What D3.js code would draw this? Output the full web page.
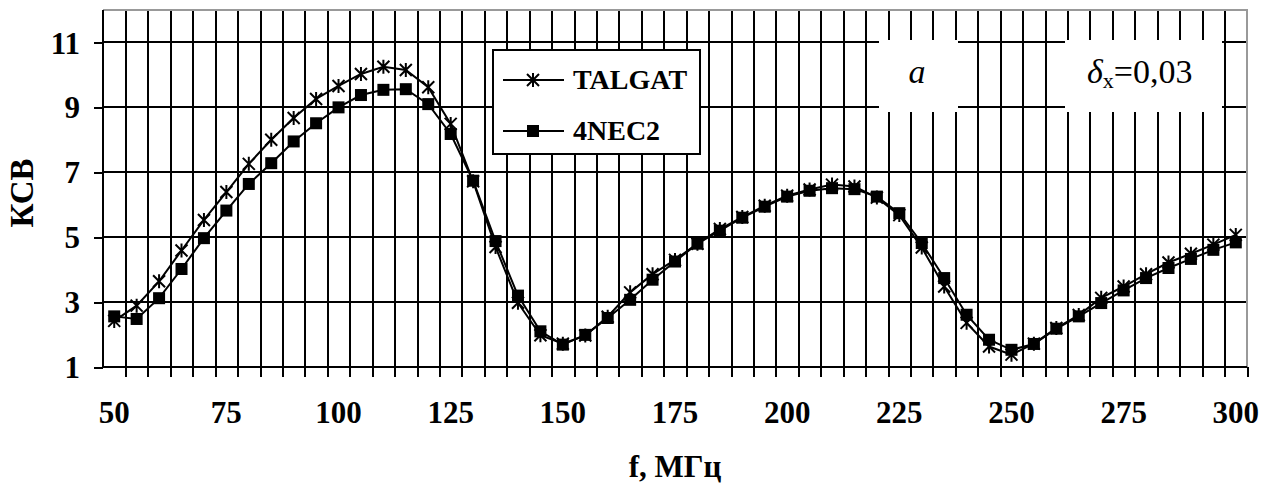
<!DOCTYPE html>
<html>
<head>
<meta charset="utf-8">
<script src="https://cdn.jsdelivr.net/npm/d3@7/dist/d3.min.js"></script>
<style>
  body { margin: 0; background: #fff; }
  svg { display: block; font-family: "Liberation Serif", "Times New Roman", serif; }
  .grid line, .grid path { shape-rendering: crispEdges; }
</style>
</head>
<body>
<svg width="1271" height="485"></svg>
<script>
// frequency, MHz (category axis, step 5)
var freq = d3.range(50, 301, 5);
var xLabels = [50, 75, 100, 125, 150, 175, 200, 225, 250, 275, 300];
var yTicks = [1, 3, 5, 7, 9, 11];

var talgat = [2.42, 2.89, 3.64, 4.59, 5.53, 6.39, 7.26, 8.0, 8.67, 9.26,
              9.66, 10.03, 10.25, 10.15, 9.62, 8.49, 6.72, 4.7, 2.98, 1.98,
              1.72, 1.97, 2.55, 3.3, 3.86, 4.3, 4.8, 5.25, 5.62, 5.97,
              6.28, 6.47, 6.62, 6.56, 6.22, 5.68, 4.68, 3.48, 2.36, 1.63,
              1.38, 1.72, 2.2, 2.6, 3.13, 3.48, 3.86, 4.22, 4.49, 4.77, 5.07];

var nec2 = [2.56, 2.48, 3.12, 4.02, 4.97, 5.82, 6.64, 7.28, 7.95, 8.51,
            9.0, 9.38, 9.54, 9.56, 9.1, 8.18, 6.74, 4.88, 3.2, 2.1,
            1.69, 1.99, 2.51, 3.07, 3.69, 4.25, 4.8, 5.2, 5.6, 5.94,
            6.25, 6.43, 6.51, 6.48, 6.25, 5.74, 4.82, 3.74, 2.61, 1.84,
            1.53, 1.71, 2.18, 2.56, 2.97, 3.36, 3.74, 4.05, 4.33, 4.61, 4.84];

var pLeft = 103, pRight = 1247, pTop = 10, pBottom = 367;

var svg = d3.select("svg");
svg.append("rect").attr("width", 1271).attr("height", 485).attr("fill", "#fff");

var x = d3.scaleBand()
    .domain(freq)
    .range([pLeft, pRight])
    .padding(0);
var xi = d3.scaleLinear()
    .domain([0, freq.length])
    .range([pLeft, pRight]);
var y = d3.scaleLinear()
    .domain([1, 12])
    .range([pBottom, pTop]);

// vertical grid + tick marks below the axis
svg.append("g")
    .attr("class", "grid")
    .attr("transform", "translate(0," + pBottom + ")")
    .call(d3.axisBottom(xi).tickValues(d3.range(1, freq.length + 1)).tickSize(10).tickFormat(""))
    .call(function(g) { g.select(".domain").remove(); })
    .selectAll("line")
      .attr("stroke", "#000")
      .attr("stroke-width", 2)
      .attr("y1", function(d) { return d === freq.length ? 0 : pTop - pBottom; });

// horizontal grid
svg.append("g")
    .attr("class", "grid")
    .selectAll("line")
    .data(yTicks)
    .enter()
    .append("line")
      .attr("x1", pLeft)
      .attr("x2", pRight)
      .attr("y1", function(d) { return y(d); })
      .attr("y2", function(d) { return y(d); })
      .attr("stroke", "#000")
      .attr("stroke-width", 2);

// plot border (top + right, gray)
svg.append("g").attr("class", "grid").append("path")
    .attr("d", "M" + pLeft + "," + pTop + "H" + pRight + "V" + pBottom)
    .attr("fill", "none")
    .attr("stroke", "#999")
    .attr("stroke-width", 2);

// y axis
svg.append("g")
    .attr("class", "grid")
    .attr("transform", "translate(" + pLeft + ",0)")
    .call(d3.axisLeft(y).tickValues(yTicks).tickSize(9).tickPadding(14))
    .call(function(g) {
        g.select(".domain").attr("stroke", "#000").attr("stroke-width", 2)
          .attr("d", "M0," + pTop + "V" + pBottom);
        g.selectAll("line").attr("stroke", "#000").attr("stroke-width", 2);
        g.selectAll("text")
          .attr("font-family", "Liberation Serif, Times New Roman, serif")
          .attr("font-size", 31)
          .attr("font-weight", "bold")
          .attr("fill", "#000")
          .attr("dy", "0.34em");
    });

// x axis line
svg.append("g").attr("class", "grid").append("line")
    .attr("x1", pLeft).attr("x2", pRight)
    .attr("y1", pBottom).attr("y2", pBottom)
    .attr("stroke", "#000").attr("stroke-width", 2);

// x labels
svg.append("g")
    .attr("transform", "translate(0," + pBottom + ")")
    .call(d3.axisBottom(x).tickValues(xLabels).tickSize(0).tickPadding(56))
    .call(function(g) {
        g.select(".domain").remove();
        g.selectAll("text")
          .attr("font-family", "Liberation Serif, Times New Roman, serif")
          .attr("font-size", 31)
          .attr("font-weight", "bold")
          .attr("fill", "#000")
          .attr("dy", 0);
    });

// axis titles
svg.append("text")
    .attr("x", 675).attr("y", 477)
    .attr("text-anchor", "middle")
    .attr("font-size", 31).attr("font-weight", "bold")
    .text("f, МГц");
svg.append("text")
    .attr("transform", "translate(33,193)rotate(-90)")
    .attr("text-anchor", "middle")
    .attr("font-size", 33).attr("font-weight", "bold")
    .text("КСВ");

// white label boxes
svg.append("rect").attr("x", 879).attr("y", 40).attr("width", 79).attr("height", 72).attr("fill", "#fff");
svg.append("rect").attr("x", 1065).attr("y", 40).attr("width", 157).attr("height", 72).attr("fill", "#fff");
svg.append("text")
    .attr("x", 917).attr("y", 83)
    .attr("text-anchor", "middle")
    .attr("font-size", 34).attr("font-style", "italic")
    .text("a");
var dl = svg.append("text")
    .attr("x", 1087).attr("y", 83)
    .attr("font-size", 34);
dl.append("tspan").attr("font-style", "italic").text("δ");
dl.append("tspan").attr("font-size", 22).attr("dy", 5).text("x");
dl.append("tspan").attr("dy", -5).text("=0,03");

// series
var cx = function(d, i) { return x(freq[i]) + x.bandwidth() / 2; };
var line = d3.line()
    .x(cx)
    .y(function(d) { return y(d); });

var star = "M0,-7V7M-6,-6L6,6M-6,6L6,-6";

function drawSeries(values, marker) {
    svg.append("path")
        .datum(values)
        .attr("d", line)
        .attr("fill", "none")
        .attr("stroke", "#000")
        .attr("stroke-width", 2);
    var g = svg.append("g");
    if (marker === "star") {
        g.selectAll("path")
            .data(values)
            .enter()
            .append("path")
              .attr("d", star)
              .attr("transform", function(d, i) { return "translate(" + cx(d, i) + "," + y(d) + ")"; })
              .attr("stroke", "#000")
              .attr("stroke-width", 2)
              .attr("fill", "none");
    } else {
        g.selectAll("rect")
            .data(values)
            .enter()
            .append("rect")
              .attr("x", function(d, i) { return cx(d, i) - 6; })
              .attr("y", function(d) { return y(d) - 6; })
              .attr("width", 12)
              .attr("height", 12)
              .attr("fill", "#000");
    }
}
drawSeries(talgat, "star");
drawSeries(nec2, "square");

// legend
var lg = svg.append("g");
lg.append("rect")
    .attr("x", 493).attr("y", 50).attr("width", 207).attr("height", 104)
    .attr("fill", "#fff").attr("stroke", "#000").attr("stroke-width", 2)
    .attr("shape-rendering", "crispEdges");
[["TALGAT", "star", 80], ["4NEC2", "square", 131]].forEach(function(e) {
    lg.append("line")
        .attr("x1", 503).attr("x2", 564)
        .attr("y1", e[2]).attr("y2", e[2])
        .attr("stroke", "#000").attr("stroke-width", 2);
    if (e[1] === "star") {
        lg.append("path").attr("d", star)
          .attr("transform", "translate(533," + e[2] + ")")
          .attr("stroke", "#000").attr("stroke-width", 2).attr("fill", "none");
    } else {
        lg.append("rect").attr("x", 527).attr("y", e[2] - 6)
          .attr("width", 12).attr("height", 12).attr("fill", "#000");
    }
    lg.append("text")
        .attr("x", 573).attr("y", e[2] + 9)
        .attr("font-size", 28).attr("font-weight", "bold")
        .text(e[0]);
});
</script>
</body>
</html>
